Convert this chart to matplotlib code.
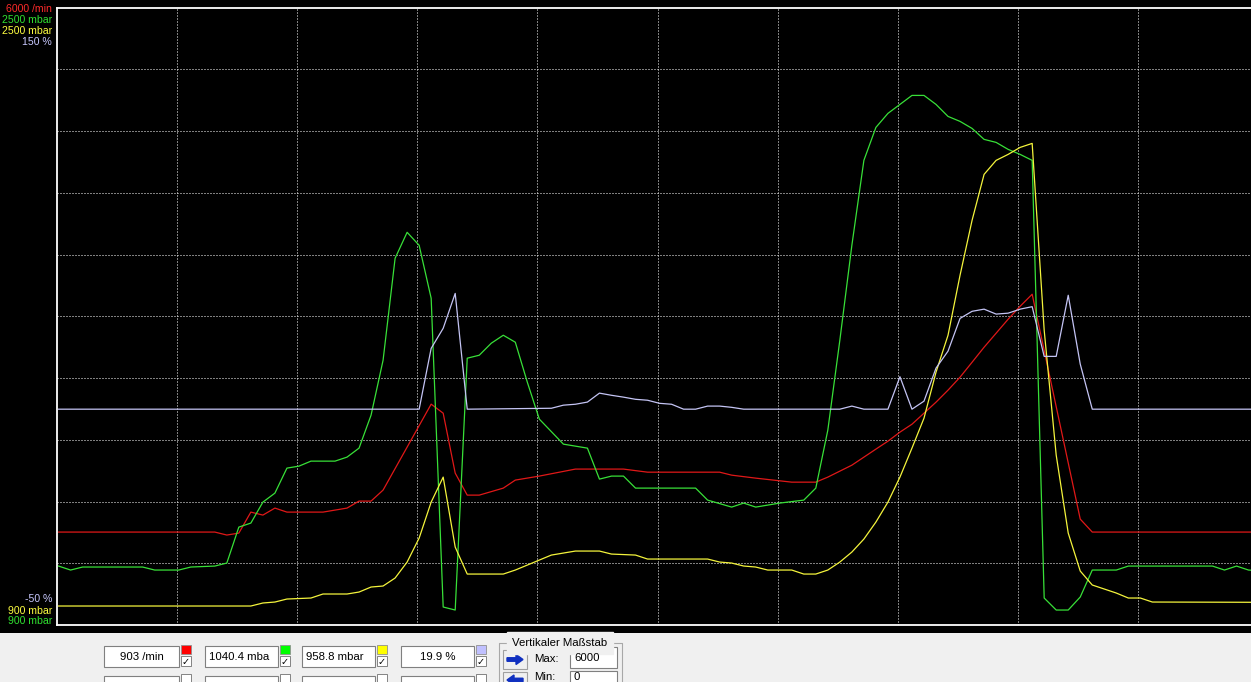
import numpy as np
import matplotlib
matplotlib.use('Agg')
import matplotlib.pyplot as plt
from matplotlib.patches import Rectangle, FancyArrow

# ---------------- data (sample index, value) ----------------
rpm_range = (0, 6000)          # /min
boost_range = (900, 2500)      # mbar (green)
press_range = (900, 2500)      # mbar (yellow)
pct_range = (-50, 150)         # %

red_k = [0, 13, 14, 15, 16, 17, 18, 19, 22, 24, 25, 26, 27, 31, 32, 33, 34, 35, 37, 38, 40,
         43, 47, 49, 55, 56, 58, 61, 63, 64, 65, 66, 67, 68, 69, 70, 71, 72, 73, 74, 75, 76,
         77, 78, 79, 80, 81, 85, 86, 100]
red_v = [903, 903, 874, 893, 1097, 1068, 1136, 1097, 1097, 1136, 1204, 1204, 1311, 2146, 2058,
         1476, 1262, 1262, 1330, 1408, 1447, 1515, 1515, 1485, 1485, 1456, 1427, 1388, 1388,
         1437, 1495, 1553, 1631, 1709, 1786, 1874, 1951, 2058, 2165, 2282, 2408, 2553, 2699,
         2835, 2971, 3097, 3214, 1029, 903, 903]

green_k = [0, 1, 2, 7, 8, 10, 11, 13, 14, 15, 16, 17, 18, 19, 20, 21, 23, 24, 25, 26, 27, 28,
           29, 30, 31, 32, 33, 34, 35, 36, 37, 38, 39, 40, 42, 44, 45, 46, 47, 48, 53, 54, 56,
           57, 58, 60, 62, 63, 64, 65, 66, 67, 68, 69, 70, 71, 72, 73, 74, 75, 76, 77, 78, 79,
           80, 81, 82, 83, 84, 85, 86, 88, 89, 96, 97, 98, 99, 100]
green_v = [1052.7, 1042.4, 1050.2, 1050.2, 1042.4, 1042.4, 1050.2, 1052.7, 1060.5, 1153.7,
           1164.1, 1218.4, 1241.7, 1306.5, 1311.6, 1324.6, 1324.6, 1335.0, 1358.3, 1443.7,
           1586.1, 1850.2, 1917.5, 1883.8, 1746.6, 946.6, 938.8, 1591.3, 1599.0, 1630.1,
           1650.8, 1632.7, 1529.1, 1433.4, 1368.6, 1358.3, 1278.0, 1285.8, 1285.8, 1254.7,
           1254.7, 1223.6, 1205.5, 1215.9, 1205.5, 1215.9, 1223.6, 1254.7, 1404.9, 1637.9,
           1883.8, 2103.9, 2189.3, 2225.6, 2248.9, 2272.2, 2272.2, 2248.9, 2217.8, 2204.9,
           2186.7, 2158.3, 2150.5, 2132.4, 2119.4, 2103.9, 969.9, 938.8, 938.8, 972.5,
           1042.4, 1042.4, 1052.7, 1052.7, 1042.4, 1052.7, 1042.4, 1040.4]

yel_k = [0, 16, 17, 18, 19, 21, 22, 24, 25, 26, 27, 28, 29, 30, 31, 32, 33, 34, 37, 38, 39,
         40, 41, 43, 45, 46, 48, 49, 54, 55, 56, 57, 58, 59, 61, 62, 63, 64, 65, 66, 67, 68,
         69, 70, 71, 72, 73, 74, 75, 76, 77, 78, 79, 80, 81, 82, 83, 84, 85, 86, 87, 88, 89,
         90, 91, 100]
yel_v = [949.2, 949.2, 957.0, 959.5, 967.3, 969.9, 980.3, 980.3, 985.4, 998.4, 1001.0, 1021.7,
         1063.1, 1125.2, 1218.4, 1283.2, 1101.9, 1032.0, 1032.0, 1042.4, 1055.3, 1068.3,
         1081.2, 1091.6, 1091.6, 1083.8, 1081.2, 1070.9, 1070.9, 1063.1, 1060.5, 1052.8,
         1050.2, 1042.4, 1042.4, 1032.0, 1032.0, 1042.4, 1063.1, 1089.0, 1122.7, 1166.7,
         1218.4, 1283.2, 1358.3, 1435.9, 1555.0, 1650.8, 1806.2, 1948.5, 2067.6, 2103.9,
         2119.4, 2137.5, 2147.9, 1663.8, 1340.1, 1138.2, 1039.8, 1003.6, 993.2, 982.8,
         969.9, 969.9, 959.5, 958.8]

lav_k = [0, 30, 31, 32, 33, 34, 41, 42, 43, 44, 45, 46, 47, 48, 49, 50, 51, 52, 53, 54, 55, 56,
         57, 65, 66, 67, 69, 70, 71, 72, 73, 74, 75, 76, 77, 78, 79, 80, 81, 82, 83, 84, 85,
         86, 100]
lav_v = [19.9, 19.9, 39.6, 46.1, 57.4, 19.9, 20.2, 21.2, 21.5, 22.2, 25.1, 24.4, 23.8, 23.1,
         22.8, 21.8, 21.5, 19.9, 19.9, 20.9, 20.9, 20.5, 19.9, 19.9, 20.9, 19.9, 19.9, 30.4,
         19.9, 22.5, 33.2, 38.7, 49.3, 51.6, 52.3, 50.7, 51.0, 52.3, 53.1, 37.0, 37.0, 56.8,
         34.5, 19.9, 19.9]

top_labels = ["6000 /min", "2500 mbar", "2500 mbar", "150 %"]
bottom_labels = ["-50 %", "900 mbar", "900 mbar"]
readouts = ["903 /min", "1040.4 mba", "958.8 mbar", "19.9 %"]

C_RED, C_GRN, C_YEL, C_LAV = '#e01818', '#38e038', '#f4f43c', '#c4c4f4'
LC_RED, LC_GRN, LC_YEL, LC_LAV = '#ff2a2a', '#30e030', '#ffff40', '#c8c8ff'

# ---------------- figure ----------------
W, H = 1251, 682
fig = plt.figure(figsize=(W / 100, H / 100), dpi=100, facecolor='black')
FONT = 'Liberation Sans'

L, T, B, R = 56.5, 7.5, 625.0, 1258.5
ax = fig.add_axes([L / W, (H - B) / H, (R - L) / W, (B - T) / H])
ax.set_facecolor('black')
x0, x1 = -0.17, 99.83
ax.set_xlim(x0, x1)
ax.set_ylim(*rpm_range)
ax.set_xticks(np.linspace(x0, x1, 11)[1:-1])
ax.set_yticks(np.linspace(rpm_range[0], rpm_range[1], 11)[1:-1])
ax.tick_params(length=0, labelbottom=False, labelleft=False)
ax.grid(True, color='white', linestyle=(0, (1, 2)), linewidth=0.72)
for s in ['left', 'top', 'bottom']:
    ax.spines[s].set_color('white')
    ax.spines[s].set_linewidth(1.3)
ax.spines['right'].set_visible(False)

ax.plot(red_k, red_v, color=C_RED, lw=0.9)

for k, v, rng, col in [(green_k, green_v, boost_range, C_GRN),
                       (yel_k, yel_v, press_range, C_YEL),
                       (lav_k, lav_v, pct_range, C_LAV)]:
    tw = ax.twinx()
    tw.set_xlim(x0, x1)
    tw.set_ylim(*rng)
    tw.set_axis_off()
    tw.plot(k, v, color=col, lw=0.9)

# ---------------- overlay (labels + control panel) ----------------
ov = fig.add_axes([0, 0, 1, 1], zorder=5)
ov.set_xlim(0, W)
ov.set_ylim(H, 0)
ov.set_axis_off()

for txt, y, c in zip(top_labels, [8.5, 20, 31, 42], [LC_RED, LC_GRN, LC_YEL, LC_LAV]):
    ov.text(52, y, txt, ha='right', va='center', color=c, fontsize=7.6, family=FONT)
for txt, y, c in zip(bottom_labels, [599, 610.5, 621], [LC_LAV, LC_YEL, LC_GRN]):
    ov.text(52, y, txt, ha='right', va='center', color=c, fontsize=7.6, family=FONT)

ov.add_patch(Rectangle((0, 633), W, H - 633, facecolor='#f0f0f0', edgecolor='none'))

box_x = [(104, 179), (205, 278), (302, 375), (401, 474)]
sq_cols = ['#ff0000', '#00ff00', '#ffff00', '#c0c0ff']
aligns = ['center', 'left', 'left', 'center']
for (bx0, bx1), txt, sc, al in zip(box_x, readouts, sq_cols, aligns):
    for by0, by1 in [(646, 667), (676, 697)]:
        ov.add_patch(Rectangle((bx0, by0), bx1 - bx0, by1 - by0, facecolor='white',
                               edgecolor='#808080', lw=0.8))
    tx = (bx0 + bx1) / 2 if al == 'center' else bx0 + 4
    ov.text(tx, 657, txt, ha=al, va='center', fontsize=8.2, family=FONT, color='black')
    sx = bx1 + 2
    ov.add_patch(Rectangle((sx, 645), 10, 9, facecolor=sc, edgecolor='#909090', lw=0.6))
    ov.add_patch(Rectangle((sx, 656), 10, 10, facecolor='white', edgecolor='#707070', lw=0.6))
    ov.text(sx + 5, 661.5, '\u2713', ha='center', va='center', fontsize=7,
            family='DejaVu Sans', color='black', fontweight='bold')
    ov.add_patch(Rectangle((sx, 674), 10, 10, facecolor='white', edgecolor='#707070', lw=0.6))

# group box "Vertikaler Maßstab"
ov.plot([499, 499, 622, 622], [690, 643, 643, 690], color='#a8a8a8', lw=0.8)
ov.text(560, 643, 'Vertikaler Maßstab', ha='center', va='center', fontsize=8.2,
        family=FONT, color='black', backgroundcolor='#f0f0f0')
ov.add_patch(Rectangle((503, 650), 24, 19, facecolor='#f0f0f0', edgecolor='#a0a0a0', lw=0.8))
ov.add_patch(FancyArrow(507, 659.5, 16, 0, width=3.5, head_width=10, head_length=7,
                        length_includes_head=True, color='#1030c0'))
ov.add_patch(Rectangle((503, 672), 24, 19, facecolor='#f0f0f0', edgecolor='#a0a0a0', lw=0.8))
ov.add_patch(FancyArrow(523, 680, -16, 0, width=3.5, head_width=10, head_length=7,
                        length_includes_head=True, color='#1030c0'))
ov.text(534, 659, 'Max:', ha='left', va='center', fontsize=8.2, family=FONT, color='black')
ov.text(534, 676.5, 'Min:', ha='left', va='center', fontsize=8.2, family=FONT, color='black')
ov.add_patch(Rectangle((570, 647), 47, 21, facecolor='white', edgecolor='#808080', lw=0.8))
ov.text(574, 658, '6000', ha='left', va='center', fontsize=8.2, family=FONT, color='black')
ov.add_patch(Rectangle((570, 671), 47, 21, facecolor='white', edgecolor='#808080', lw=0.8))
ov.text(574, 676.5, '0', ha='left', va='center', fontsize=8.2, family=FONT, color='black')

fig.savefig('out.png', dpi=100, facecolor='black')
